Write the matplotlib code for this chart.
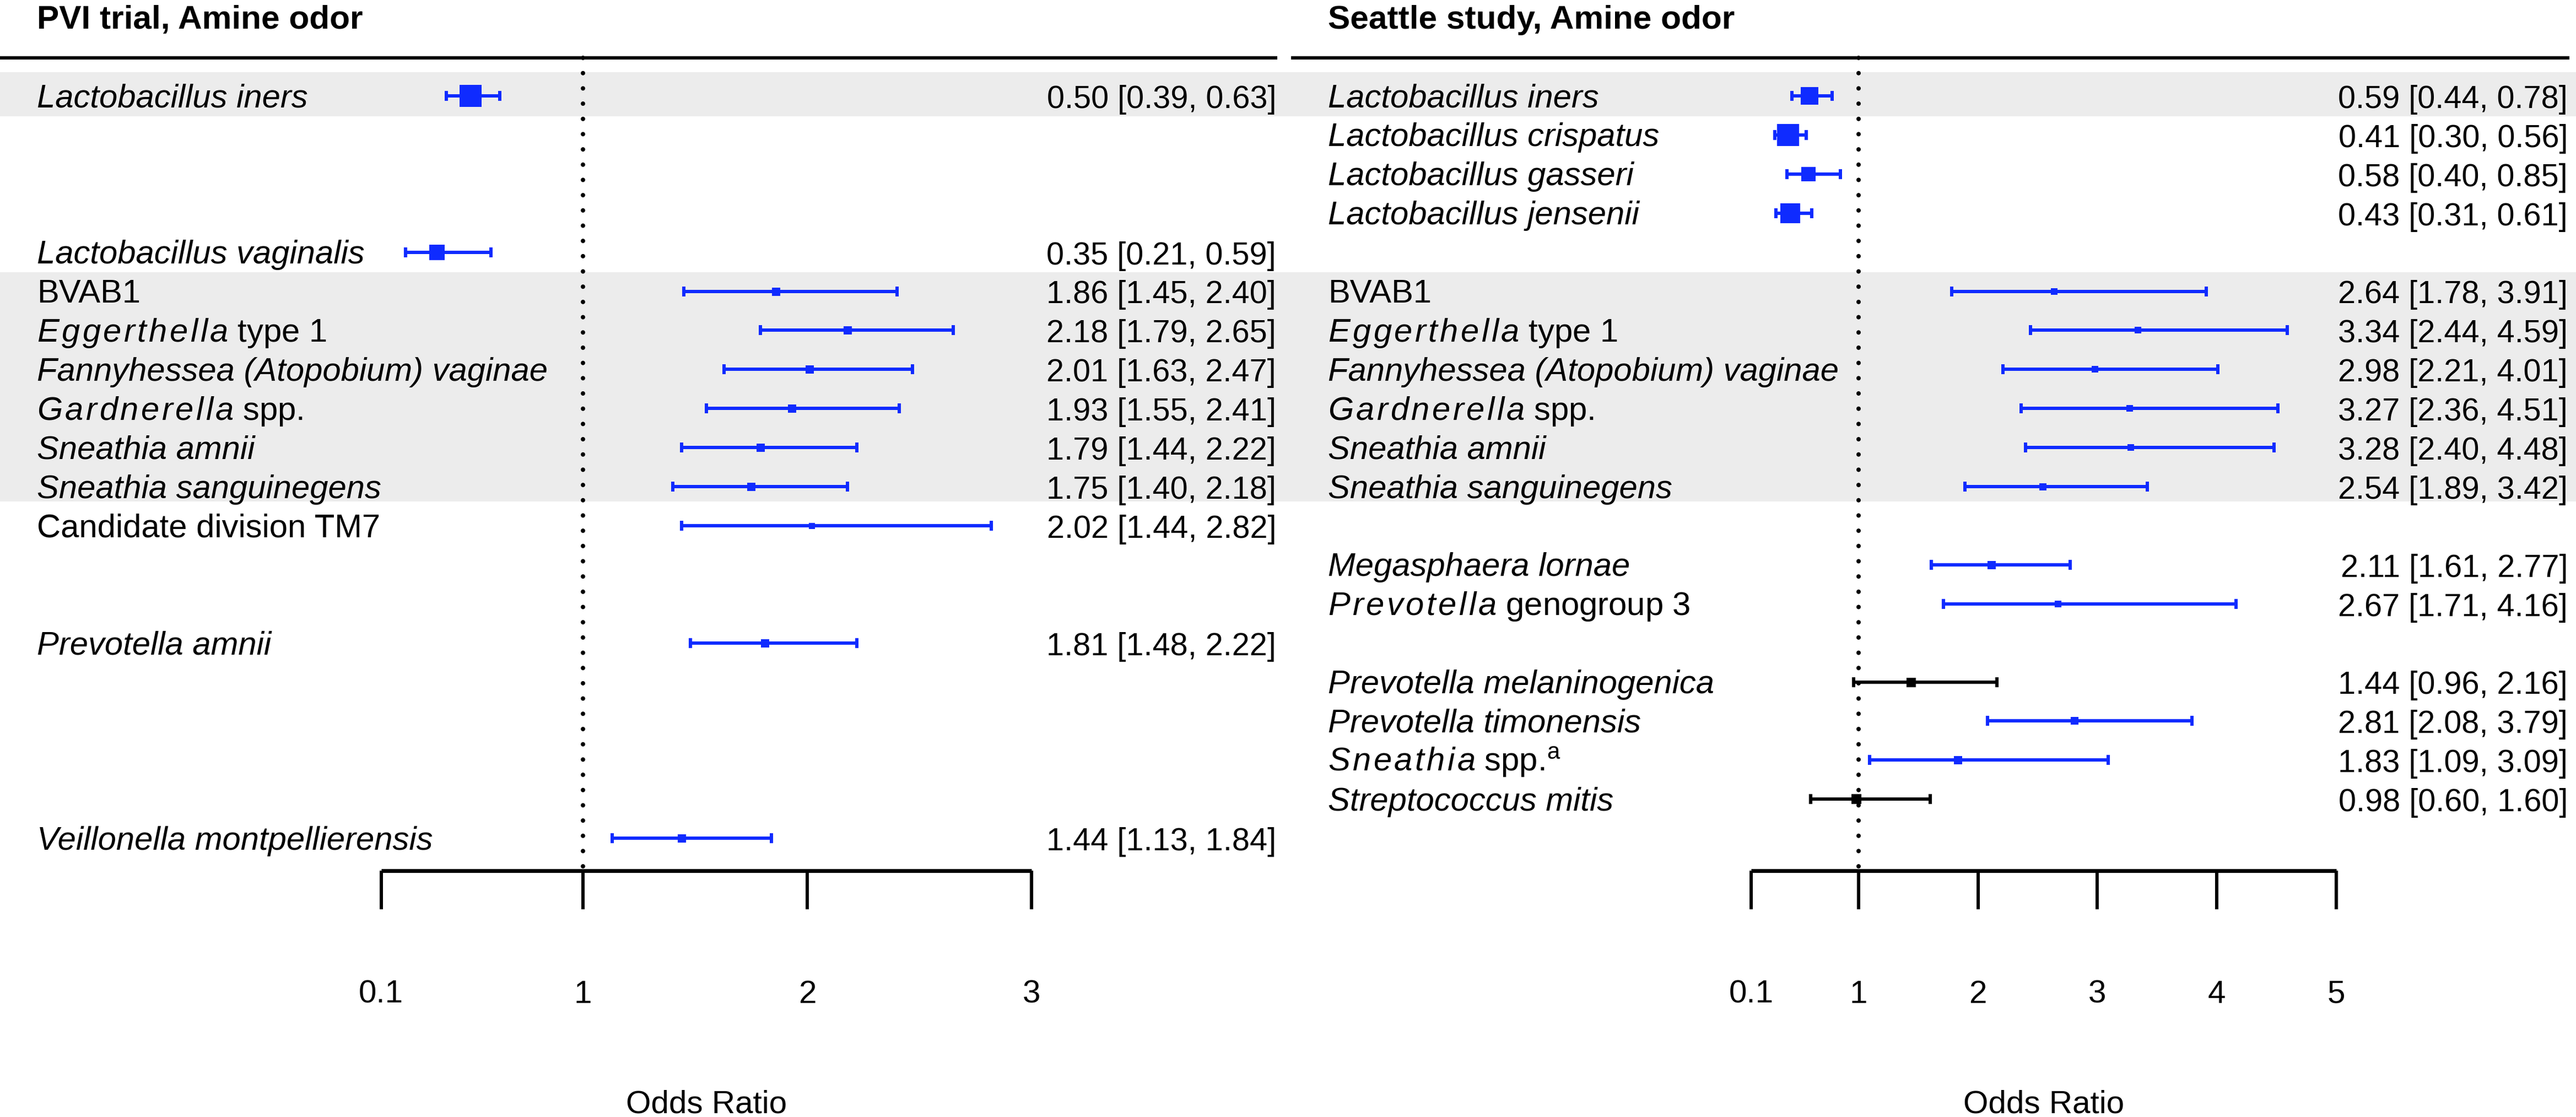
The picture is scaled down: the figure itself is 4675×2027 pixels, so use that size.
import re
import matplotlib
matplotlib.use('Agg')
import matplotlib.pyplot as plt
from matplotlib.transforms import blended_transform_factory

# ---- data -----------------------------------------------------------------
# {Genus} marks a letter-spaced italic genus followed by plain text
left_title = 'PVI trial, Amine odor'
left_labels = ['Lactobacillus iners', 'Lactobacillus vaginalis', 'BVAB1',
               '{Eggerthella} type 1', 'Fannyhessea (Atopobium) vaginae',
               '{Gardnerella} spp.', 'Sneathia amnii', 'Sneathia sanguinegens',
               'Candidate division TM7', 'Prevotella amnii', 'Veillonella montpellierensis']
left_rows = [0, 4, 5, 6, 7, 8, 9, 10, 11, 14, 19]
left_or = [0.50, 0.35, 1.86, 2.18, 2.01, 1.93, 1.79, 1.75, 2.02, 1.81, 1.44]
left_lo = [0.39, 0.21, 1.45, 1.79, 1.63, 1.55, 1.44, 1.40, 1.44, 1.48, 1.13]
left_hi = [0.63, 0.59, 2.40, 2.65, 2.47, 2.41, 2.22, 2.18, 2.82, 2.22, 1.84]
left_box = [40, 28, 15, 15, 15, 15, 15, 15, 11, 15, 15]   # square size, px
left_ticks = [0.1, 1, 2, 3]

right_title = 'Seattle study, Amine odor'
right_labels = ['Lactobacillus iners', 'Lactobacillus crispatus', 'Lactobacillus gasseri',
                'Lactobacillus jensenii', 'BVAB1', '{Eggerthella} type 1',
                'Fannyhessea (Atopobium) vaginae', '{Gardnerella} spp.',
                'Sneathia amnii', 'Sneathia sanguinegens', 'Megasphaera lornae',
                '{Prevotella} genogroup 3', 'Prevotella melaninogenica',
                'Prevotella timonensis', '{Sneathia} spp.$^{\\mathrm{a}}$',
                'Streptococcus mitis']
right_rows = [0, 1, 2, 3, 5, 6, 7, 8, 9, 10, 12, 13, 15, 16, 17, 18]
right_or = [0.59, 0.41, 0.58, 0.43, 2.64, 3.34, 2.98, 3.27, 3.28, 2.54, 2.11, 2.67, 1.44, 2.81, 1.83, 0.98]
right_lo = [0.44, 0.30, 0.40, 0.31, 1.78, 2.44, 2.21, 2.36, 2.40, 1.89, 1.61, 1.71, 0.96, 2.08, 1.09, 0.60]
right_hi = [0.78, 0.56, 0.85, 0.61, 3.91, 4.59, 4.01, 4.51, 4.48, 3.42, 2.77, 4.16, 2.16, 3.79, 3.09, 1.60]
right_box = [32, 40, 27, 36, 12, 12, 12, 12, 12, 13, 15, 12, 17, 14, 15, 18]
right_ticks = [0.1, 1, 2, 3, 4, 5]

regular_labels = ['BVAB1', 'Candidate division TM7']
shaded_blocks = [(0, 0), (5, 10)]   # first and last row of each grey band

# ---- layout (pixels) -----------------------------------------------------
DPI = 100
FIG_W, FIG_H = 4675, 2027
PT = 72 / DPI
ROW0_Y, ROW_H = 174, 70.9
AXIS_Y = 1580
TOP_LINE_Y = 105
SPLIT_X = 2330

BLUE = '#0f2bff'
GREY = '#ececec'
LABEL_SIZE = 43
VALUE_SIZE = 41.5
TICK_SIZE = 42


def row_of(py):
    return (py - ROW0_Y) / ROW_H


def to_mathtext(label):
    # letter-spaced italic genus, like R's plotmath italic()
    def spaced(m):
        return r'$\mathit{' + r'\hspace{0.09}'.join(m.group(1)) + '}$'
    return re.sub(r'\{([A-Z][a-z]+)\}', spaced, label)


plt.rcParams['font.family'] = ['Liberation Sans', 'DejaVu Sans']
plt.rcParams['mathtext.fontset'] = 'custom'
plt.rcParams['mathtext.it'] = 'Liberation Sans:italic'
plt.rcParams['mathtext.rm'] = 'Liberation Sans'
plt.rcParams['mathtext.bf'] = 'Liberation Sans:bold'

fig = plt.figure(figsize=(FIG_W / DPI, FIG_H / DPI), dpi=DPI)
fig.patch.set_facecolor('white')


def draw_panel(x0, x1, one_px, unit_px, text_px, value_px, line_px,
               title, labels, rows, est, lo, hi, box, ticks):
    ax = fig.add_axes([x0 / FIG_W, 1 - AXIS_Y / FIG_H, (x1 - x0) / FIG_W, AXIS_Y / FIG_H])
    ax.set_xlim(1 + (x0 - one_px) / unit_px, 1 + (x1 - one_px) / unit_px)
    ax.set_ylim(row_of(AXIS_Y), row_of(0))
    ax.patch.set_alpha(0)

    tr = blended_transform_factory(fig.transFigure, ax.transData)

    for r0, r1 in shaded_blocks:
        top = r0 - 0.6 if r0 == 0 else r0 - 0.48
        bot = r1 + 0.52 if r1 == r0 else r1 + 0.38
        ax.axhspan(top, bot, color=GREY, lw=0, zorder=0)

    # header rule and title
    ax.plot([line_px[0] / FIG_W, line_px[1] / FIG_W], [row_of(TOP_LINE_Y)] * 2,
            transform=tr, color='black', lw=6 * PT, solid_capstyle='butt', clip_on=False)
    ax.text(text_px / FIG_W, row_of(52), title, transform=tr, fontsize=43.5,
            fontweight='bold', va='baseline', ha='left')

    # reference line at OR = 1
    ax.plot([1, 1], [row_of(TOP_LINE_Y), row_of(AXIS_Y)], color='black', lw=8 * PT,
            linestyle=(0, (0.01, 3.45)), dash_capstyle='round', zorder=1, clip_on=False)

    for lab, r, e, l, h, b in zip(labels, rows, est, lo, hi, box):
        col = 'black' if l < 1 < h else BLUE
        ax.errorbar(e, r, xerr=[[e - l], [h - e]], fmt='none', ecolor=col,
                    elinewidth=6 * PT, capsize=6.8, capthick=6 * PT, zorder=2)
        ax.scatter([e], [r], marker='s', s=(b * PT) ** 2, color=col, lw=0, zorder=3)
        mixed = '{' in lab or '$' in lab
        style = 'normal' if (mixed or lab in regular_labels) else 'italic'
        ax.text(text_px / FIG_W, r + 0.29, to_mathtext(lab), transform=tr,
                fontsize=LABEL_SIZE, style=style, va='baseline', ha='left')
        ax.text(value_px / FIG_W, r + 0.31, f'{e:.2f} [{l:.2f}, {h:.2f}]',
                transform=tr, va='baseline', ha='right', fontsize=VALUE_SIZE)

    for s in ['top', 'left', 'right']:
        ax.spines[s].set_visible(False)
    ax.spines['bottom'].set_bounds(ticks[0], ticks[-1])
    ax.spines['bottom'].set_linewidth(7 * PT)
    ax.spines['bottom'].set_capstyle('butt')
    ax.set_yticks([])
    ax.set_xticks(ticks)
    ax.set_xticklabels([f'{t:g}' for t in ticks])
    ax.tick_params(axis='x', direction='out', length=70 * PT, width=6 * PT,
                   pad=128 * PT, labelsize=TICK_SIZE)
    ax.set_xlabel('Odds Ratio', fontsize=TICK_SIZE)
    mid = (ticks[0] + ticks[-1]) / 2
    ax.xaxis.set_label_coords(mid, (AXIS_Y - 1977) / AXIS_Y,
                              transform=blended_transform_factory(ax.transData, ax.transAxes))
    return ax


draw_panel(0, SPLIT_X, 1058, 407, 67, 2316, (0, 2318),
           left_title, left_labels, left_rows, left_or, left_lo, left_hi, left_box, left_ticks)
draw_panel(SPLIT_X, FIG_W, 3373, 216.7, 2410, 4660, (2343, 4663),
           right_title, right_labels, right_rows, right_or, right_lo, right_hi, right_box, right_ticks)

fig.savefig('out.png', dpi=DPI, facecolor='white')
